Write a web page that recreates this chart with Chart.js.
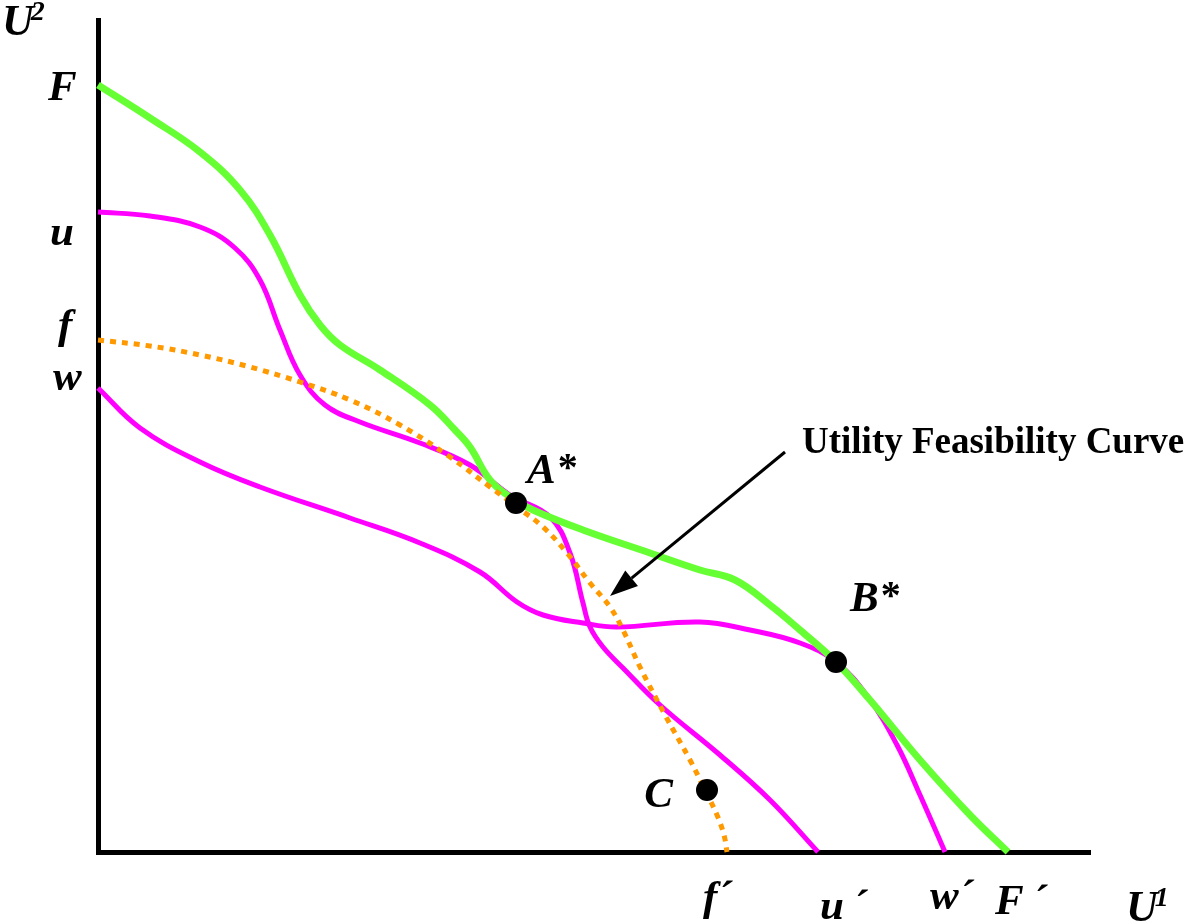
<!DOCTYPE html>
<html>
<head>
<meta charset="utf-8">
<script src="https://cdn.jsdelivr.net/npm/chart.js@4.4.1/dist/chart.umd.min.js"></script>
<style>
  html, body { margin: 0; padding: 0; background: #fff; }
  #wrap { width: 1188px; height: 922px; position: relative; }
</style>
</head>
<body>
<div id="wrap"><canvas id="chart"></canvas></div>
<script>
// Utility possibility frontiers in (U1, U2) space.
const frontierF = [
  [0, 767], [52, 734], [102, 700], [142, 662], [172, 617], [202, 557],
  [222, 527], [242, 507], [282, 482], [332, 447], [357, 422], [372, 405],
  [392, 372], [412, 355], [435, 342], [485, 322], [552, 299], [602, 282],
  [637, 272], [672, 247], [702, 222], [738, 190], [772, 152], [822, 92],
  [872, 37], [910, 0]
];
const frontierU = [
  [0, 640], [52, 636], [102, 625], [137, 604], [162, 572], [182, 522],
  [202, 477], [227, 447], [262, 430], [322, 409], [372, 387], [412, 357],
  [452, 335], [472, 299], [485, 249], [492, 225], [505, 205], [525, 184],
  [562, 147], [622, 97], [672, 52], [720, 0]
];
const frontierW = [
  [0, 464], [42, 424], [102, 390], [162, 365], [252, 334], [322, 309],
  [382, 280], [419, 250], [445, 237], [485, 229], [519, 225], [602, 230],
  [652, 222], [702, 209], [738, 190], [770, 155], [799, 107], [822, 57],
  [847, 0]
];
const feasibilityF = [
  [0, 512], [52, 506], [102, 497], [152, 485], [202, 470], [252, 452],
  [302, 427], [352, 395], [392, 365], [419, 345], [445, 325], [469, 299],
  [492, 269], [512, 245], [525, 222], [542, 185], [567, 137], [592, 92],
  [607, 62], [619, 37], [626, 17], [629, 0]
];

// Marked allocations
const pointNames = ['A*', 'B*', 'C'];
const pointValues = [[418, 349], [738, 190], [609, 62]];

// End-point labels on each axis
const yEndLabels = ['F', 'u', 'f', 'w'];
const xEndLabels = ['f\u00B4', 'u\u2009\u00B4', 'w\u00B4', 'F\u2009\u00B4'];
const axisNames = ['U', 'U'];
const axisSupers = ['1', '2'];

// Callout pointing at the feasibility curve
const calloutText = 'Utility Feasibility Curve';
const calloutArrow = [[687, 400], [512, 256]];

const toXY = arr => arr.map(([x, y]) => ({ x, y }));

const SERIF = '"Liberation Serif", "Times New Roman", serif';

const curveStyle = (color, width, dash) => ({
  borderColor: color,
  borderWidth: width,
  borderDash: dash || [],
  borderCapStyle: 'butt',
  borderJoinStyle: 'round',
  pointRadius: 0,
  pointHoverRadius: 0,
  fill: false,
  tension: 0.4,
  clip: false
});

const labelPlugin = {
  id: 'diagramLabels',
  afterDraw(chart) {
    const { ctx, scales: { x, y } } = chart;
    const px = v => x.getPixelForValue(v);
    const py = v => y.getPixelForValue(v);
    ctx.save();
    ctx.fillStyle = '#000';
    ctx.textBaseline = 'alphabetic';
    const LETTER = `italic bold 43px ${SERIF}`;

    // Vertical axis end labels
    const yStarts = [frontierF[0][1], frontierU[0][1], feasibilityF[0][1], frontierW[0][1]];
    const yOffsets = [[-50, 15], [-48, 33], [-40, -2], [-45, 2]];
    ctx.font = LETTER;
    ctx.textAlign = 'left';
    yEndLabels.forEach((t, i) => {
      ctx.fillText(t, px(0) + yOffsets[i][0], py(yStarts[i]) + yOffsets[i][1]);
    });

    // Horizontal axis end labels
    const xEnds = [feasibilityF.at(-1)[0], frontierU.at(-1)[0], frontierW.at(-1)[0], frontierF.at(-1)[0]];
    const xOffsets = [[-24, 58], [2, 67], [-15, 57], [-13, 62]];
    xEndLabels.forEach((t, i) => {
      ctx.fillText(t, px(xEnds[i]) + xOffsets[i][0], py(0) + xOffsets[i][1]);
    });

    // Axis names with superscripts
    const drawName = (name, sup, lx, by) => {
      ctx.font = `italic bold 44px ${SERIF}`;
      ctx.fillText(name, lx, by);
      const w = ctx.measureText(name).width;
      ctx.font = `italic bold 28px ${SERIF}`;
      ctx.fillText(sup, lx + w - 3, by - 15);
    };
    drawName(axisNames[1], axisSupers[1], 2, 35);
    drawName(axisNames[0], axisSupers[0], 1126, 921);

    // Point labels
    const ptOffsets = [[11, -20, 'left'], [14, -51, 'left'], [-34, 17, 'right']];
    pointNames.forEach((t, i) => {
      const [vx, vy] = pointValues[i];
      const [ox, oy, al] = ptOffsets[i];
      const bx = px(vx) + ox, by = py(vy) + oy;
      ctx.textAlign = al;
      if (t.endsWith('*')) {
        ctx.font = LETTER;
        const base = t.slice(0, -1);
        ctx.fillText(base, bx, by);
        const w = ctx.measureText(base).width;
        ctx.font = `bold 40px ${SERIF}`;
        ctx.fillText('*', bx + w + 2, by - 3);
      } else {
        ctx.font = LETTER;
        ctx.fillText(t, bx, by);
      }
    });

    // Callout arrow
    const [[tx, ty], [hx, hy]] = calloutArrow;
    const x0 = px(tx), y0 = py(ty), x1 = px(hx), y1 = py(hy);
    const ang = Math.atan2(y1 - y0, x1 - x0);
    const headLen = 28, headW = 10;
    const bxh = x1 - headLen * Math.cos(ang), byh = y1 - headLen * Math.sin(ang);
    ctx.strokeStyle = '#000';
    ctx.lineWidth = 3;
    ctx.beginPath();
    ctx.moveTo(x0, y0);
    ctx.lineTo(bxh, byh);
    ctx.stroke();
    ctx.beginPath();
    ctx.moveTo(x1, y1);
    ctx.lineTo(bxh + headW * Math.sin(ang), byh - headW * Math.cos(ang));
    ctx.lineTo(bxh - headW * Math.sin(ang), byh + headW * Math.cos(ang));
    ctx.closePath();
    ctx.fill();

    ctx.textAlign = 'left';
    ctx.font = `bold 37px ${SERIF}`;
    ctx.fillText(calloutText, x0 + 17, y0 + 1);
    ctx.restore();
  }
};

new Chart(document.getElementById('chart'), {
  type: 'line',
  data: {
    datasets: [
      { label: 'u', data: toXY(frontierU), ...curveStyle('#ff00ff', 5), order: 4 },
      { label: 'w', data: toXY(frontierW), ...curveStyle('#ff00ff', 5), order: 3 },
      { label: 'F', data: toXY(frontierF), ...curveStyle('#66ff33', 7), order: 2 },
      { label: 'f', data: toXY(feasibilityF), ...curveStyle('#ff9900', 5, [6, 6]), order: 1 },
      {
        label: 'points',
        type: 'scatter',
        data: toXY(pointValues),
        showLine: false,
        pointRadius: 11,
        pointHoverRadius: 11,
        pointBackgroundColor: '#000',
        pointBorderColor: '#000',
        pointBorderWidth: 0,
        clip: false,
        order: 0
      }
    ]
  },
  options: {
    responsive: true,
    maintainAspectRatio: false,
    animation: false,
    events: [],
    layout: { padding: { left: 98, top: 20, right: 98, bottom: 70 } },
    plugins: { legend: { display: false }, tooltip: { enabled: false } },
    scales: {
      x: {
        type: 'linear', min: 0, max: 992,
        ticks: { display: false },
        grid: { display: false, drawTicks: false },
        border: { display: true, color: '#000', width: 5 }
      },
      y: {
        type: 'linear', min: 0, max: 832,
        ticks: { display: false },
        grid: { display: false, drawTicks: false },
        border: { display: true, color: '#000', width: 5 }
      }
    }
  },
  plugins: [labelPlugin]
});
</script>
</body>
</html>
